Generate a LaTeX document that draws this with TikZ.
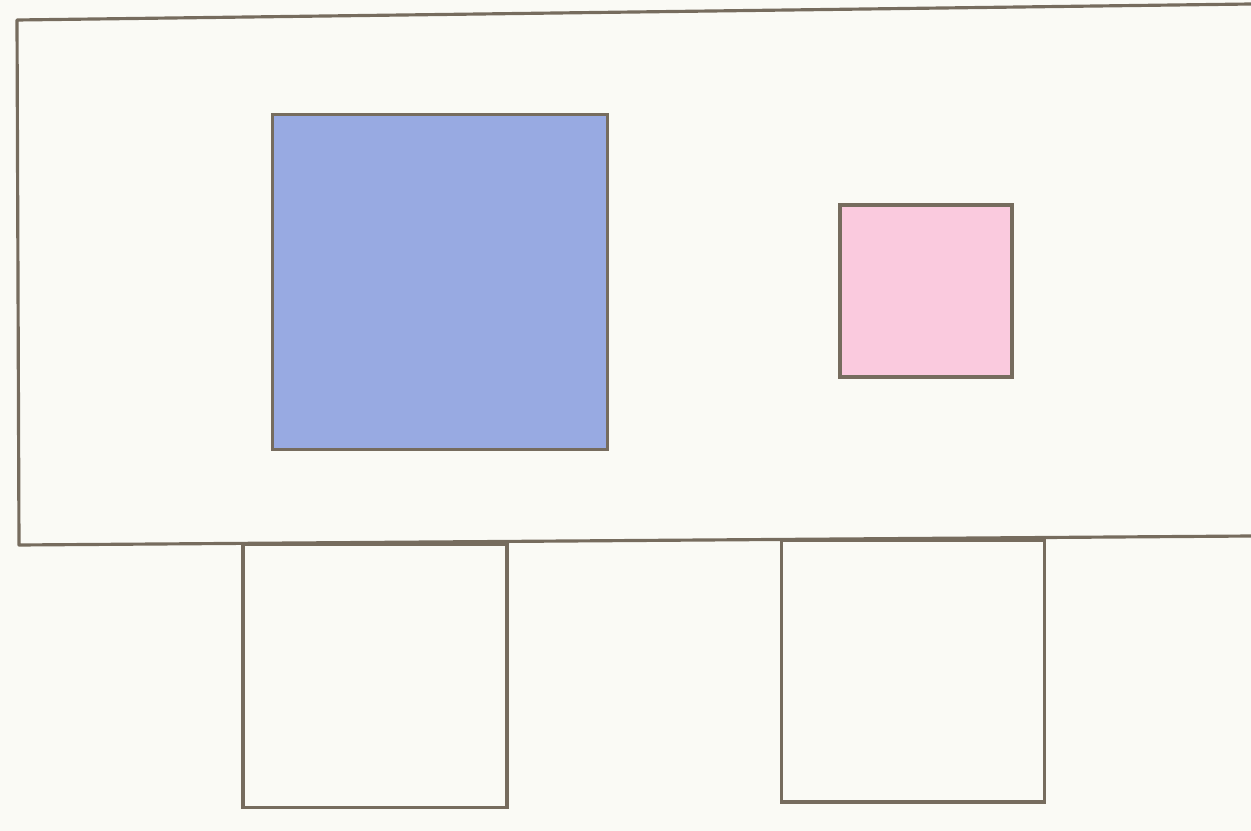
\documentclass[tikz,border=0pt]{standalone}
\usepackage{tikz}
\definecolor{paper}{RGB}{250,250,245}
\definecolor{edge}{RGB}{118,108,94}
\definecolor{bluebox}{RGB}{152,170,226}
\definecolor{pinkbox}{RGB}{250,202,222}

\begin{document}
\begin{tikzpicture}[x=0.02cm,y=-0.02cm,
  every node/.style={inner sep=0pt,outer sep=0pt},
  box/.style={draw=edge,line width=1.8pt,rectangle}]
\fill[paper] (0,0) rectangle (1251,831);
\useasboundingbox (0,0) rectangle (1251,831);
\coordinate (tr) at (1251,4);
\coordinate (tl) at (17,20);
\coordinate (bl) at (19,545);
\coordinate (br) at (1251,536);
\draw[edge,line width=1.8pt,line join=round] (tr)--(tl)--(bl)--(br);
\node[box,fill=bluebox,minimum size=6.7cm] (big) at (440,282) {};
\node[box,fill=pinkbox,minimum size=3.44cm] (small) at (926,291) {};
\node[box,minimum width=5.28cm,minimum height=5.26cm] (left) at (375,676) {};
\node[box,minimum width=5.26cm,minimum height=5.24cm] (right) at (913,671) {};
\end{tikzpicture}
\end{document}
